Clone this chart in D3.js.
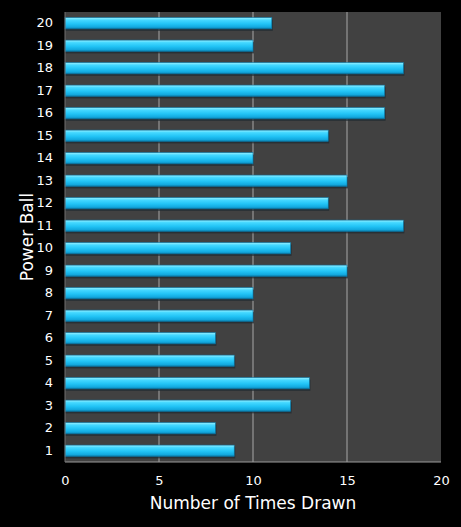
<!DOCTYPE html>
<html>
<head>
<meta charset="utf-8">
<script src="https://cdn.jsdelivr.net/npm/d3@7"></script>
<style>
  body { margin: 0; background: #000; }
  text { font-family: "DejaVu Sans", Verdana, sans-serif; fill: #fff; }
</style>
</head>
<body>
<div id="chart"></div>
<script>
// Power ball numbers and how often each was drawn
var balls = ['1','2','3','4','5','6','7','8','9','10','11','12','13','14','15','16','17','18','19','20'];
var timesDrawn = [9, 8, 12, 13, 9, 8, 10, 10, 15, 12, 18, 14, 15, 10, 14, 17, 17, 18, 10, 11];
var xTicks = [0, 5, 10, 15, 20];

var width = 461, height = 527;
var margin = {left: 65, right: 20, top: 12, bottom: 65};
var chartWidth = width - margin.left - margin.right;
var chartHeight = height - margin.top - margin.bottom;

var data = balls.map(function(b, i) { return {ball: b, value: timesDrawn[i]}; });

var svg = d3.select('#chart').append('svg')
    .attr('width', width)
    .attr('height', height);

// Gradient for the glossy bars
var defs = svg.append('defs');
var grad = defs.append('linearGradient')
    .attr('id', 'barGrad')
    .attr('x1', 0).attr('y1', 0).attr('x2', 0).attr('y2', 1);
grad.append('stop').attr('offset', '0%').attr('stop-color', '#9af0ff');
grad.append('stop').attr('offset', '22%').attr('stop-color', '#45d8ff');
grad.append('stop').attr('offset', '55%').attr('stop-color', '#22c4f6');
grad.append('stop').attr('offset', '85%').attr('stop-color', '#12a8de');
grad.append('stop').attr('offset', '100%').attr('stop-color', '#0b75a0');

var g = svg.append('g')
    .attr('transform', 'translate(' + margin.left + ',' + margin.top + ')');

var xScale = d3.scaleLinear().domain([0, 20]).range([0, chartWidth]);
var yScale = d3.scaleBand().domain(balls.slice().reverse()).range([0, chartHeight]).paddingInner(0.5).paddingOuter(0.25);

// Plot background
g.append('rect')
    .attr('width', chartWidth)
    .attr('height', chartHeight)
    .attr('fill', '#414141');

// Vertical gridlines
g.selectAll('.grid')
    .data(xTicks.slice(1, -1))
    .enter().append('line')
    .attr('x1', function(d) { return xScale(d); })
    .attr('x2', function(d) { return xScale(d); })
    .attr('y1', 0)
    .attr('y2', chartHeight)
    .attr('stroke', '#a8a8a8')
    .attr('stroke-width', 1);

// Bar shadows
g.selectAll('.shadow')
    .data(data)
    .enter().append('rect')
    .attr('x', 0)
    .attr('y', function(d) { return yScale(d.ball) + 2; })
    .attr('width', function(d) { return xScale(d.value) + 1; })
    .attr('height', yScale.bandwidth())
    .attr('fill', '#1e2a30')
    .attr('opacity', 0.7);

// Bars
g.selectAll('.bar')
    .data(data)
    .enter().append('rect')
    .attr('x', 0)
    .attr('y', function(d) { return yScale(d.ball); })
    .attr('width', function(d) { return xScale(d.value); })
    .attr('height', yScale.bandwidth())
    .attr('fill', 'url(#barGrad)')
    .attr('stroke', '#0b7aa8')
    .attr('stroke-width', 0.6);

// Plot border (left and bottom)
g.append('line')
    .attr('x1', 0).attr('x2', chartWidth)
    .attr('y1', chartHeight).attr('y2', chartHeight)
    .attr('stroke', '#9a9a9a');
g.append('line')
    .attr('x1', 0).attr('x2', 0)
    .attr('y1', 0).attr('y2', chartHeight)
    .attr('stroke', '#707070');

// Axes
var xAxis = d3.axisBottom(xScale).tickValues(xTicks).tickSize(0).tickPadding(14);
var xAxisG = g.append('g')
    .attr('transform', 'translate(0,' + chartHeight + ')')
    .call(xAxis);
xAxisG.select('.domain').remove();
xAxisG.selectAll('text').style('font-size', '13px');

var yAxis = d3.axisLeft(yScale).tickSize(0).tickPadding(12);
var yAxisG = g.append('g').call(yAxis);
yAxisG.select('.domain').remove();
yAxisG.selectAll('text').style('font-size', '13px');

// Axis titles
svg.append('text')
    .attr('x', margin.left + chartWidth / 2)
    .attr('y', 509)
    .attr('text-anchor', 'middle')
    .style('font-size', '17px')
    .text('Number of Times Drawn');

svg.append('text')
    .attr('transform', 'translate(33,' + (margin.top + chartHeight / 2) + ') rotate(-90)')
    .attr('text-anchor', 'middle')
    .style('font-size', '17px')
    .text('Power Ball');
</script>
</body>
</html>
